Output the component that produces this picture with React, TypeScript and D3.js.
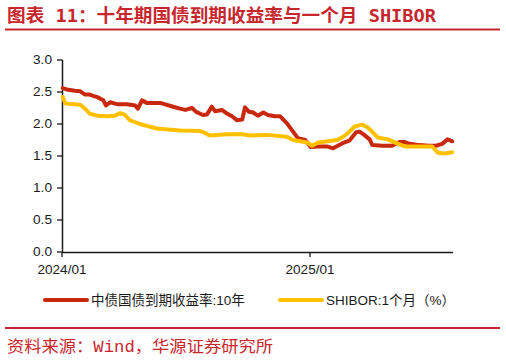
import React from "react";
import * as d3 from "d3";

const cgbDates = [
  "2024-01-02","2024-01-08","2024-01-20","2024-01-28","2024-02-04","2024-02-11","2024-02-16","2024-02-22",
  "2024-03-02","2024-03-06","2024-03-12","2024-03-22","2024-04-06","2024-04-18","2024-04-22","2024-04-28",
  "2024-05-05","2024-05-25","2024-06-13","2024-06-23","2024-07-01","2024-07-11","2024-07-17","2024-07-27",
  "2024-08-02","2024-08-09","2024-08-14","2024-08-24","2024-09-01","2024-09-08","2024-09-15","2024-09-23",
  "2024-09-27","2024-10-03","2024-10-09","2024-10-16","2024-10-24","2024-10-31","2024-11-10","2024-11-18",
  "2024-11-28","2024-12-07","2024-12-14","2024-12-25","2025-01-02","2025-01-13","2025-01-26","2025-02-04",
  "2025-02-18","2025-02-28","2025-03-10","2025-03-15","2025-03-22","2025-03-30","2025-04-03","2025-04-18",
  "2025-05-02","2025-05-13","2025-05-20","2025-05-28","2025-06-11","2025-06-26","2025-07-06","2025-07-15",
  "2025-07-23","2025-07-30"
];
const cgbValues = [
  2.56, 2.54, 2.52, 2.51, 2.46, 2.46, 2.44, 2.42,
  2.37, 2.29, 2.34, 2.31, 2.31, 2.29, 2.24, 2.37,
  2.33, 2.33, 2.27, 2.24, 2.22, 2.25, 2.19, 2.14,
  2.15, 2.27, 2.20, 2.22, 2.16, 2.12, 2.06, 2.07,
  2.26, 2.19, 2.18, 2.13, 2.18, 2.14, 2.12, 2.12,
  2.01, 1.88, 1.78, 1.75, 1.64, 1.65, 1.65, 1.62,
  1.70, 1.74, 1.87, 1.88, 1.83, 1.76, 1.67, 1.66,
  1.66, 1.72, 1.72, 1.69, 1.67, 1.66, 1.66, 1.69,
  1.76, 1.73
];

const shiborDates = [
  "2024-01-02","2024-01-06","2024-01-28","2024-02-04","2024-02-11","2024-02-22","2024-03-08","2024-03-19",
  "2024-03-27","2024-04-02","2024-04-10","2024-04-25","2024-05-05","2024-05-20","2024-06-23","2024-07-23",
  "2024-07-30","2024-08-06","2024-09-01","2024-09-24","2024-10-04","2024-10-29","2024-11-28","2024-12-07",
  "2024-12-28","2025-01-04","2025-01-13","2025-01-28","2025-02-10","2025-02-19","2025-02-26","2025-03-08",
  "2025-03-19","2025-03-28","2025-04-11","2025-04-26","2025-05-11","2025-05-21","2025-06-30","2025-07-09",
  "2025-07-19","2025-07-30"
];
const shiborValues = [
  2.42, 2.32, 2.30, 2.24, 2.16, 2.13, 2.12, 2.13,
  2.17, 2.15, 2.06, 2.00, 1.97, 1.93, 1.90, 1.89,
  1.86, 1.82, 1.84, 1.84, 1.82, 1.83, 1.80, 1.75,
  1.71, 1.66, 1.71, 1.73, 1.75, 1.80, 1.86, 1.96,
  1.99, 1.94, 1.79, 1.76, 1.69, 1.65, 1.65, 1.55,
  1.54, 1.56
];

const yTickValues = [0, 0.5, 1, 1.5, 2, 2.5, 3];
const yTickLabels = ["0.0", "0.5", "1.0", "1.5", "2.0", "2.5", "3.0"];
const xTickDates = ["2024-01-01", "2025-01-01"];
const xTickLabels = ["2024/01", "2025/01"];
const xDomain = ["2024-01-01", "2025-07-31"];

const titleText = "图表 11：十年期国债到期收益率与一个月 SHIBOR";
const legendLabels = ["中债国债到期收益率:10年", "SHIBOR:1个月（%）"];
const sourceText = "资料来源：Wind，华源证券研究所";

const RED = "#C8290E";
const YELLOW = "#FFC000";
const BRAND = "#C8262D";

export default function App() {
  const parse = d3.timeParse("%Y-%m-%d");
  const x = d3
    .scaleTime()
    .domain(xDomain.map((d) => parse(d) as Date))
    .range([62, 453]);
  const y = d3.scaleLinear().domain([0, 3]).range([252, 60]);

  const cgb = cgbDates.map((d, i) => ({ date: parse(d) as Date, v: cgbValues[i] }));
  const shibor = shiborDates.map((d, i) => ({ date: parse(d) as Date, v: shiborValues[i] }));

  const line = d3
    .line<{ date: Date; v: number }>()
    .x((d) => x(d.date))
    .y((d) => y(d.v));

  const axisFont = "'Liberation Sans', Arial, sans-serif";
  const legendFont = "'Liberation Sans', Arial, 'Noto Sans CJK SC', sans-serif";

  return (
    <svg
      width={506}
      height={361}
      style={{ position: "absolute", left: 0, top: 0, background: "#fff" }}
    >
      <rect x={0} y={0} width={506} height={361} fill="#fff" />
      {/* title */}
      <text
        x={7}
        y={22}
        fontSize={18}
        fontWeight="bold"
        fill={BRAND}
        fontFamily="'DejaVu Sans Mono', 'Noto Sans CJK SC', sans-serif"
        textLength={429}
        lengthAdjust="spacingAndGlyphs"
      >
        {titleText}
      </text>
      <line x1={5} x2={500} y1={29.5} y2={29.5} stroke={BRAND} strokeWidth={2} />

      {/* y axis */}
      <line x1={62.5} x2={62.5} y1={y(3)} y2={y(0)} stroke="#1a1a1a" strokeWidth={1.5} />
      {yTickValues.map((t, i) => (
        <g key={"y" + t}>
          <line x1={57} x2={62.5} y1={y(t)} y2={y(t)} stroke="#1a1a1a" strokeWidth={1.3} />
          <text
            x={52}
            y={y(t) + 4.3}
            textAnchor="end"
            fontSize={12}
            fontFamily={axisFont}
            fill="#1a1a1a"
            textLength={19}
            lengthAdjust="spacingAndGlyphs"
          >
            {yTickLabels[i]}
          </text>
        </g>
      ))}

      {/* x axis */}
      <line x1={62} x2={453} y1={252.5} y2={252.5} stroke="#1a1a1a" strokeWidth={1.5} />
      {xTickDates.map((d, i) => {
        const px = x(parse(d) as Date);
        return (
          <g key={"x" + d}>
            <line x1={px} x2={px} y1={252.5} y2={257} stroke="#1a1a1a" strokeWidth={1.3} />
            <text
              x={px}
              y={274}
              textAnchor="middle"
              fontSize={12}
              fontFamily={axisFont}
              fill="#1a1a1a"
              textLength={49}
              lengthAdjust="spacingAndGlyphs"
            >
              {xTickLabels[i]}
            </text>
          </g>
        );
      })}

      {/* series */}
      <path
        d={line(cgb) || ""}
        fill="none"
        stroke={RED}
        strokeWidth={4}
        strokeLinejoin="round"
        strokeLinecap="round"
      />
      <path
        d={line(shibor) || ""}
        fill="none"
        stroke={YELLOW}
        strokeWidth={4}
        strokeLinejoin="round"
        strokeLinecap="round"
      />

      {/* legend */}
      <line x1={45} x2={87} y1={300} y2={300} stroke={RED} strokeWidth={4} strokeLinecap="round" />
      <text x={91} y={305} fontSize={13.5} fontFamily={legendFont} fill="#1a1a1a">
        {legendLabels[0]}
      </text>
      <line x1={280} x2={322} y1={300} y2={300} stroke={YELLOW} strokeWidth={4} strokeLinecap="round" />
      <text x={326} y={305} fontSize={13.5} fontFamily={legendFont} fill="#1a1a1a">
        {legendLabels[1]}
      </text>

      {/* source */}
      <line x1={5} x2={500} y1={328} y2={328} stroke={BRAND} strokeWidth={2} />
      <text
        x={7}
        y={352}
        fontSize={16}
        fill={BRAND}
        fontFamily="'Liberation Mono', 'Noto Sans CJK SC', monospace"
        textLength={266}
        lengthAdjust="spacingAndGlyphs"
      >
        {sourceText}
      </text>
    </svg>
  );
}
